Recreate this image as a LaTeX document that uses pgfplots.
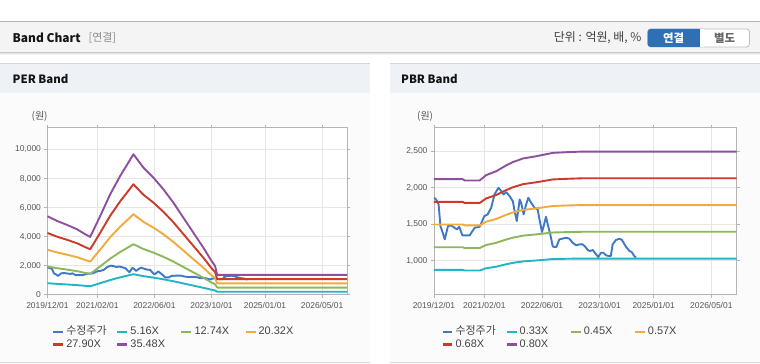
\documentclass[border=0pt]{standalone}
\usepackage{pgfplots}
\pgfplotsset{compat=1.18}
\usepackage{pgfplotstable}
\usepackage{fontspec}
\setmainfont{Liberation Sans}
\newfontfamily\kr{Noto Sans CJK KR}

\definecolor{cPrice}{HTML}{3F78C6}
\definecolor{cCyan}{HTML}{22B5C5}
\definecolor{cGreen}{HTML}{8CB85C}
\definecolor{cOrange}{HTML}{F0AB3C}
\definecolor{cRed}{HTML}{CC3A2A}
\definecolor{cPurple}{HTML}{8E4F9E}
\definecolor{cGrid}{HTML}{E6E6E6}
\definecolor{cAxis}{HTML}{B4B4B4}
\definecolor{cTick}{HTML}{555555}
\definecolor{cBar}{HTML}{F4F4F4}
\definecolor{cPanelHead}{HTML}{EEF2F7}
\definecolor{cPanelBody}{HTML}{FBFBFB}
\definecolor{cBorder}{HTML}{D6D6D6}
\definecolor{cBtn}{HTML}{2F6FB3}

\pgfplotstableread{
m v
0 1862
0.6 1839
1.3 1770
1.8 1474
2.5 1374
3.0 1292
3.9 1474
4.8 1483
5.7 1451
6.4 1428
7.0 1465
7.9 1346
8.9 1346
9.9 1346
11.3 1451
12.7 1465
14.0 1611
14.9 1634
15.9 1725
16.8 1907
17.9 1998
18.7 1953
19.3 1907
20.1 1939
21.0 1884
21.9 1816
22.4 1679
23.0 1543
23.8 1839
24.2 1793
24.9 1634
25.6 1770
26.2 1862
27.0 1793
27.9 1725
28.8 1702
29.3 1565
30.0 1392
30.7 1520
31.1 1602
31.6 1497
32.3 1360
33.0 1191
34.0 1187
34.8 1292
35.6 1301
36.7 1315
37.6 1301
38.5 1246
39.5 1210
40.4 1223
41.3 1223
42.0 1191
42.7 1146
43.3 1132
44.1 1146
44.8 1100
45.6 1050
46.4 1109
47.0 1109
47.8 1073
48.5 1064
49.1 1064
49.6 1223
50.5 1283
51.5 1301
52.2 1283
52.9 1223
53.5 1178
54.3 1132
54.9 1119
55.6 1064
56.1 1041
}\price

% PER bands: month, 5.16X, 12.74X, 20.32X, 27.90X, 35.48X
\pgfplotstableread{
m a b c d e
0 786 1940 3095 4249 5405
2.7 739 1824 2910 3995 5081
5.5 699 1725 2751 3778 4805
8.3 655 1618 2581 3543 4506
10.6 605 1494 2384 3273 4161
12 578 1428 2278 3128 3977
14.8 789 1948 3107 4266 5426
17.6 1006 2484 3962 5441 6920
20.4 1190 2939 4688 6437 8184
22.7 1324 3269 5214 7159 9104
24.1 1408 3476 5543 7611 9679
26.9 1274 3146 5017 6889 8759
29.7 1173 2897 4621 6345 8069
32.5 1057 2609 4162 5714 7265
35.3 923 2278 3633 4989 6345
38.1 772 1907 3042 4177 5311
40.9 622 1535 2449 3362 4276
43.7 472 1164 1857 2550 3242
46 337 833 1329 1825 2322
47 287 710 1132 1554 1977
47.6 197 487 776 1066 1357
84 197 487 776 1066 1357
}\per

% PBR bands: month, 0.33X, 0.45X, 0.57X, 0.68X, 0.80X
\pgfplotstableread{
m a b c d e
0 873 1184 1495 1806 2117
8 873 1184 1495 1806 2117
8.5 866 1174 1483 1791 2099
12.7 866 1174 1483 1791 2099
14.5 896 1215 1534 1853 2172
17.3 918 1245 1572 1899 2226
20 950 1289 1627 1966 2304
21.9 970 1315 1660 2005 2350
24.7 990 1343 1695 2048 2400
28.4 1003 1360 1717 2074 2431
33 1022 1386 1749 2113 2477
36.7 1026 1391 1756 2121 2486
41.3 1029 1396 1762 2129 2495
84 1029 1396 1762 2129 2495
}\pbr

\pgfplotsset{
  bandaxis/.style={
    scale only axis, anchor=south west,
    xmin=0, xmax=84,
    xtick={0,14,30,46,61,77},
    xticklabels={2019/12/01,2021/02/01,2022/06/01,2023/10/01,2025/01/01,2026/05/01},
    grid=major, grid style={cGrid, line width=0.6bp},
    axis line style={cAxis, line width=0.8bp},
    tick style={cAxis, line width=0.8bp},
    tick align=outside, major tick length=3bp,
    ticklabel style={font=\fontsize{8.5}{10}\selectfont, text=cTick},
    xticklabel style={yshift=-1bp},
    /pgf/number format/assume math mode=true,
    /pgf/number format/.cd, 1000 sep={,}, /pgfplots/.cd,
    scaled y ticks=false,
    legend columns=4,
    legend cell align=left,
    legend style={draw=none, fill=none, anchor=north west, inner sep=0pt,
      font=\fontsize{11}{13}\selectfont, text=cTick!80!black,
      nodes={inner xsep=2bp, inner ysep=0.8bp, text width=48bp, align=left, text height=8.5bp, text depth=2.5bp},
      column sep=0pt, row sep=0pt},
    legend image code/.code={\draw[line width=2.2bp, line cap=butt] (0bp,0bp) -- (10bp,0bp);},
    every axis plot/.append style={line width=1.9bp, line join=round},
  }
}

\begin{document}
\begin{tikzpicture}
\begin{scope}[x=1bp,y=1bp]
  % page background
  \fill[white] (0,0) rectangle (760,364);
  % header bar (pixel y 22..53)
  \fill[cBar] (0,311) rectangle (760,342);
  \draw[cAxis, line width=1bp] (0,342) -- (760,342);
  \draw[black!22, line width=1bp] (0,311) -- (760,311);
  \draw[black!10, line width=1bp] (0,310) -- (760,310);
  \draw[black!5, line width=1bp] (0,309) -- (760,309);
  \node[anchor=west, inner sep=0pt, text=black!92] at (12,326) {\fontsize{12}{14}\selectfont\kr\bfseries Band Chart};
  \node[anchor=west, inner sep=0pt, text=black!45] at (88,326) {\fontsize{11}{13}\selectfont\kr [연결]};
  \node[anchor=east, inner sep=0pt, text=black!75] at (642,326) {\fontsize{12}{14}\selectfont\kr 단위 : 억원, 배, \%};
  \fill[white, rounded corners=3bp] (690,317) rectangle (750,335);
  \draw[black!25, rounded corners=3bp, line width=0.8bp] (648,317) rectangle (750,335);
  \fill[cBtn, rounded corners=3bp] (648,317) rectangle (704,335);
  \fill[cBtn] (695,317) rectangle (700,335);
  \fill[white] (700,317.4) rectangle (704,334.6);
  \node[text=white, inner sep=0pt] at (674,326) {\fontsize{11.5}{13}\selectfont\kr\bfseries 연결};
  \node[text=black!60, inner sep=0pt] at (725,326) {\fontsize{11.5}{13}\selectfont\kr\bfseries 별도};
  % panels
  \foreach \xa/\xb in {0/370, 390/760}{
    \fill[cPanelBody] (\xa,1) rectangle (\xb,300);
    \fill[cPanelHead] (\xa,271) rectangle (\xb,300);
    \draw[cBorder, line width=1bp] (\xa,300) -- (\xb,300);
    \draw[cBorder, line width=1bp] (\xa,1) -- (\xb,1);
  }
  \fill[white] (47,69) rectangle (347,236);
  \fill[white] (434,69) rectangle (737,236);
  \node[anchor=west, inner sep=0pt, text=black!92] at (12,285) {\fontsize{11.5}{14}\selectfont\kr\bfseries PER Band};
  \node[anchor=west, inner sep=0pt, text=black!92] at (401,285) {\fontsize{11.5}{14}\selectfont\kr\bfseries PBR Band};
  \node[anchor=west, inner sep=0pt, text=cTick] at (31,247) {\fontsize{10}{12}\selectfont\kr (원)};
  \node[anchor=west, inner sep=0pt, text=cTick] at (417,247) {\fontsize{10}{12}\selectfont\kr (원)};
\end{scope}

% PER band
\begin{axis}[bandaxis, at={(47bp,69bp)}, width=300bp, height=167bp,
  ymin=0, ymax=11500, ytick={0,2000,4000,6000,8000,10000},
  legend style={at={(0.015,-0.185)}}]
\addplot[cPrice] table[x=m,y=v] {\price};
\addlegendentry{\kr 수정주가}
\addplot[cCyan] table[x=m,y=a] {\per};
\addlegendentry{5.16X}
\addplot[cGreen] table[x=m,y=b] {\per};
\addlegendentry{12.74X}
\addplot[cOrange] table[x=m,y=c] {\per};
\addlegendentry{20.32X}
\addplot[cRed] table[x=m,y=d] {\per};
\addlegendentry{27.90X}
\addplot[cPurple] table[x=m,y=e] {\per};
\addlegendentry{35.48X}
\end{axis}

% PBR band
\begin{axis}[bandaxis, at={(434bp,69bp)}, width=303bp, height=167bp,
  ymin=535, ymax=2820, ytick={1000,1500,2000,2500},
  legend style={at={(0.024,-0.185)}}]
\addplot[cPrice] table[x=m,y=v] {\price};
\addlegendentry{\kr 수정주가}
\addplot[cCyan] table[x=m,y=a] {\pbr};
\addlegendentry{0.33X}
\addplot[cGreen] table[x=m,y=b] {\pbr};
\addlegendentry{0.45X}
\addplot[cOrange] table[x=m,y=c] {\pbr};
\addlegendentry{0.57X}
\addplot[cRed] table[x=m,y=d] {\pbr};
\addlegendentry{0.68X}
\addplot[cPurple] table[x=m,y=e] {\pbr};
\addlegendentry{0.80X}
\end{axis}
\end{tikzpicture}
\end{document}
